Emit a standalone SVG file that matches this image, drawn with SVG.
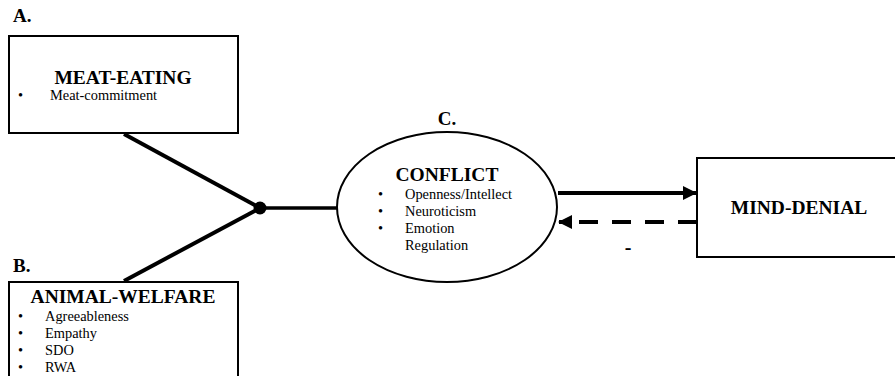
<svg xmlns="http://www.w3.org/2000/svg" width="895" height="376" viewBox="0 0 895 376">
<style>
text{font-family:"Liberation Serif","Times New Roman",serif;fill:#000}
.lbl{font-size:19px;font-weight:bold}
.title{font-size:19.5px;font-weight:bold}
.item{font-size:14.4px}
.box{fill:#fff;stroke:#000;stroke-width:2}
</style>
<defs>
<marker id="ah2" markerWidth="14" markerHeight="14" refX="13" refY="7" orient="auto" markerUnits="userSpaceOnUse" viewBox="0 0 14 14">
<path d="M0,0 L14,7 L0,14 Z" fill="#000"/>
</marker>
</defs>
<g id="connectors">
<line x1="124" y1="134" x2="260" y2="208" stroke="#000" stroke-width="4"/>
<line x1="124" y1="281" x2="260" y2="208" stroke="#000" stroke-width="4"/>
<line x1="260" y1="208" x2="337" y2="208" stroke="#000" stroke-width="3.5"/>
<circle cx="260" cy="208" r="6.5" fill="#000"/>
<line x1="558" y1="193" x2="696" y2="193" stroke="#000" stroke-width="4" marker-end="url(#ah2)"/>
<line x1="697" y1="222" x2="559" y2="222" stroke="#000" stroke-width="4" stroke-dasharray="19,14" marker-end="url(#ah2)"/>
<text x="628" y="254" font-size="20" font-weight="bold" text-anchor="middle">-</text>
</g>
<g id="nodeA">
<text x="13" y="22" class="lbl">A.</text>
<rect x="9" y="36" width="229" height="97" class="box"/>
<text x="123" y="84" class="title" text-anchor="middle">MEAT-EATING</text>
<text x="18" y="100" class="item">•</text>
<text x="50" y="100" class="item">Meat-commitment</text>
</g>
<g id="nodeB">
<text x="13" y="272" class="lbl">B.</text>
<rect x="9" y="282" width="229" height="110" class="box"/>
<text x="123" y="303" class="title" text-anchor="middle">ANIMAL-WELFARE</text>
<text x="18" y="321" class="item">•</text>
<text x="45" y="321" class="item">Agreeableness</text>
<text x="18" y="338" class="item">•</text>
<text x="45" y="338" class="item">Empathy</text>
<text x="18" y="355" class="item">•</text>
<text x="45" y="355" class="item">SDO</text>
<text x="18" y="372" class="item">•</text>
<text x="45" y="372" class="item">RWA</text>
</g>
<g id="nodeC">
<text x="447" y="125" class="lbl" text-anchor="middle">C.</text>
<ellipse cx="447" cy="207" rx="110" ry="75" class="box"/>
<text x="447" y="181" class="title" text-anchor="middle">CONFLICT</text>
<text x="378" y="199" class="item">•</text>
<text x="405" y="199" class="item">Openness/Intellect</text>
<text x="378" y="216" class="item">•</text>
<text x="405" y="216" class="item">Neuroticism</text>
<text x="378" y="233" class="item">•</text>
<text x="405" y="233" class="item">Emotion</text>
<text x="405" y="250" class="item">Regulation</text>
</g>
<g id="nodeD">
<rect x="697" y="158" width="210" height="99" class="box"/>
<text x="799" y="214" class="title" font-size="16.8" text-anchor="middle">MIND-DENIAL</text>
</g>
</svg>
